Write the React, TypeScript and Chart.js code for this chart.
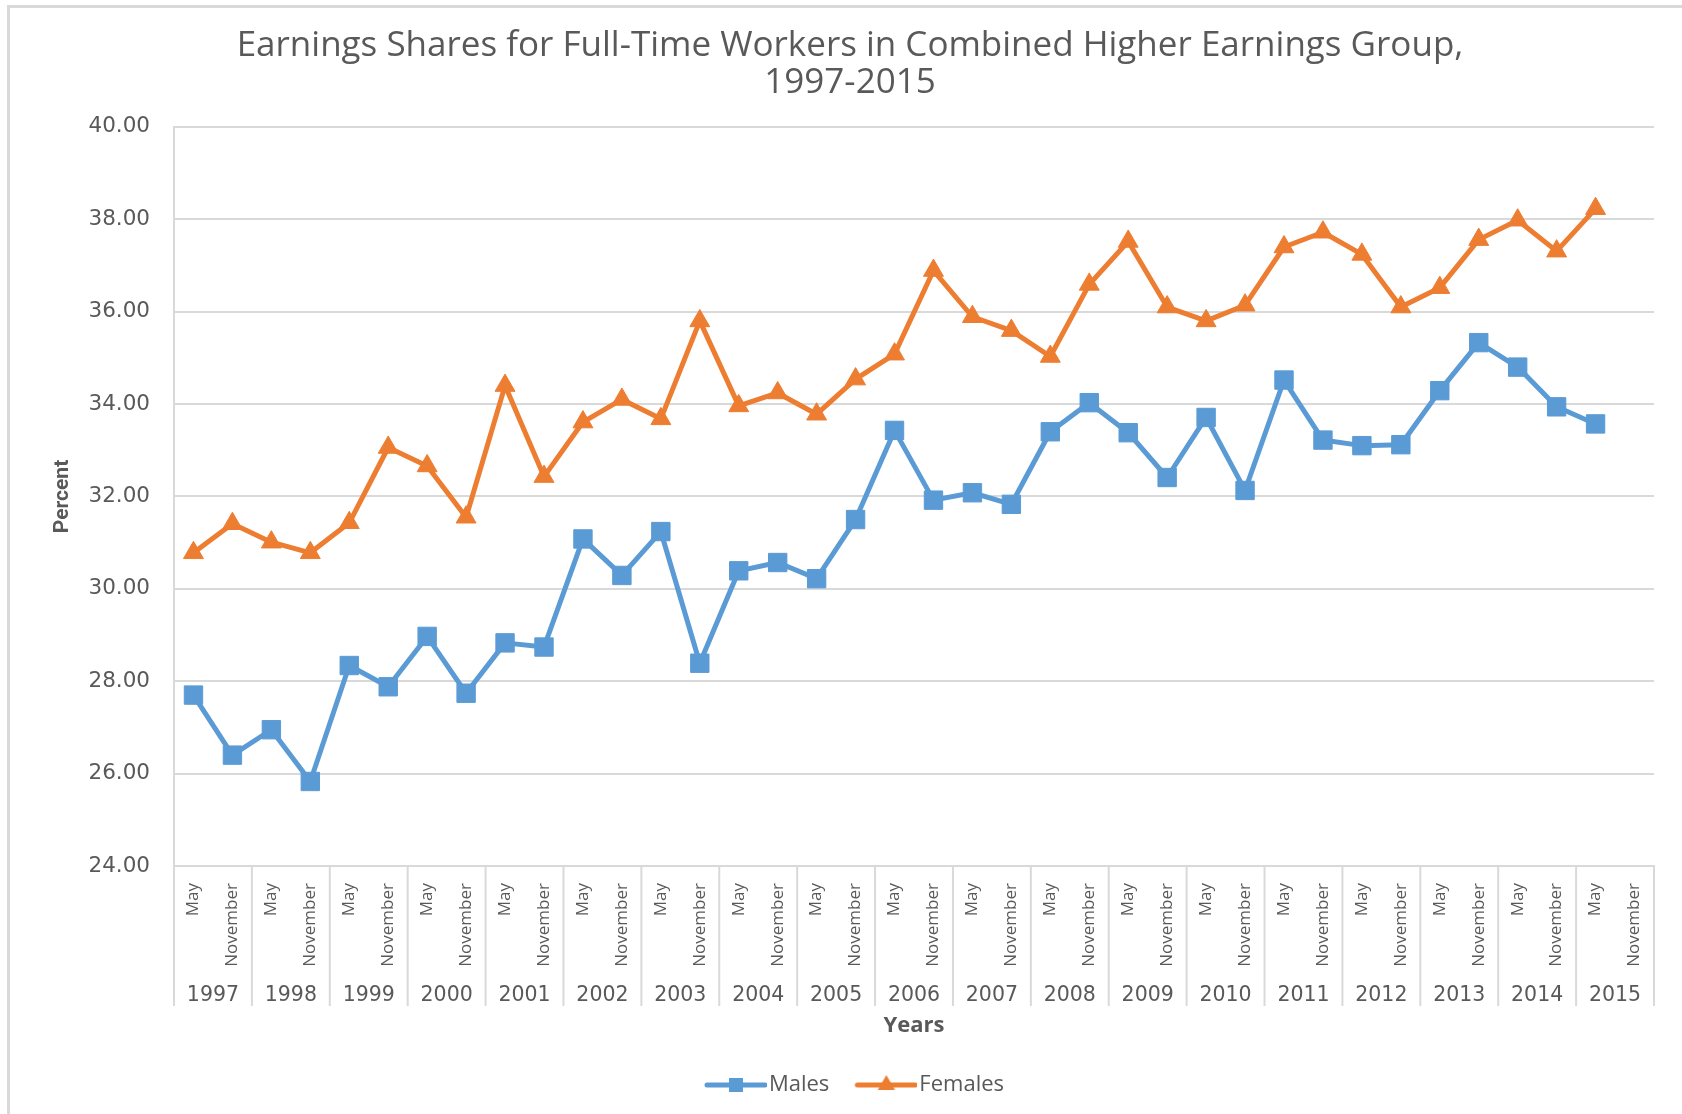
import React, { useEffect, useRef } from 'react';
import { Chart, registerables } from 'chart.js';

Chart.register(...registerables);

const titleLines = ['Earnings Shares for Full-Time Workers in Combined Higher Earnings Group,', '1997-2015'];
const years = ['1997', '1998', '1999', '2000', '2001', '2002', '2003', '2004', '2005', '2006', '2007', '2008', '2009', '2010', '2011', '2012', '2013', '2014', '2015'];
const halves = ['May', 'November'];
const categories = years.flatMap(() => halves);

const males = [
  27.70, 26.40, 26.95, 25.83, 28.34, 27.88, 28.97, 27.74, 28.83, 28.74,
  31.08, 30.29, 31.24, 28.39, 30.39, 30.57, 30.22, 31.50, 33.43, 31.92,
  32.08, 31.83, 33.40, 34.03, 33.38, 32.41, 33.71, 32.13, 34.52, 33.22,
  33.10, 33.12, 34.29, 35.33, 34.80, 33.94, 33.57, null,
];
const females = [
  30.78, 31.41, 31.01, 30.78, 31.43, 33.06, 32.66, 31.55, 34.40, 32.43,
  33.61, 34.10, 33.68, 35.80, 33.96, 34.24, 33.78, 34.54, 35.08, 36.89,
  35.89, 35.59, 35.03, 36.59, 37.52, 36.10, 35.80, 36.14, 37.40, 37.72,
  37.24, 36.10, 36.52, 37.56, 37.98, 37.31, 38.23, null,
];

const yMin = 24;
const yMax = 40;
const yStep = 2;

const BLUE = '#5B9BD5';
const ORANGE = '#ED7D31';
const TEXT = '#595959';
const GRID = '#d9d9d9';

const LEGEND_FONT = 22;
const LEGEND_LINE = 62;

function makeLegendIcon(color: string, style: 'rect' | 'triangle') {
  const g = LEGEND_FONT / 2 - 2;
  const c = document.createElement('canvas');
  c.width = Math.round(LEGEND_LINE + 2 * g);
  c.height = 24;
  const ctx = c.getContext('2d')!;
  const cy = 12;
  ctx.strokeStyle = color;
  ctx.lineWidth = 5;
  ctx.lineCap = 'round';
  ctx.beginPath();
  ctx.moveTo(2 * g + 2, cy);
  ctx.lineTo(2 * g + LEGEND_LINE - 2, cy);
  ctx.stroke();
  ctx.fillStyle = color;
  const cx = 2 * g + LEGEND_LINE / 2;
  if (style === 'rect') {
    ctx.fillRect(cx - 7, cy - 7, 14, 14);
  } else {
    const r = 10;
    ctx.beginPath();
    ctx.moveTo(cx, cy - r);
    ctx.lineTo(cx + r * 0.866, cy + r / 2);
    ctx.lineTo(cx - r * 0.866, cy + r / 2);
    ctx.closePath();
    ctx.fill();
  }
  return c;
}

const yearGroupPlugin = {
  id: 'yearGroups',
  afterDraw(chart: any) {
    const x = chart.scales.x;
    const ctx = chart.ctx;
    const half = (x.getPixelForValue(1) - x.getPixelForValue(0)) / 2;
    const top = chart.chartArea.bottom;
    ctx.save();
    ctx.strokeStyle = GRID;
    ctx.lineWidth = 2;
    for (let i = 0; i <= years.length; i++) {
      const px = i < years.length
        ? x.getPixelForValue(i * 2) - half
        : x.getPixelForValue(years.length * 2 - 1) + half;
      ctx.beginPath();
      ctx.moveTo(px, top);
      ctx.lineTo(px, top + 140);
      ctx.stroke();
    }
    ctx.fillStyle = TEXT;
    ctx.font = '20.5px "DejaVu Sans"';
    ctx.textAlign = 'center';
    ctx.textBaseline = 'middle';
    years.forEach((yr, i) => {
      const px = (x.getPixelForValue(i * 2) + x.getPixelForValue(i * 2 + 1)) / 2;
      ctx.fillText(yr, px, top + 130);
    });
    ctx.restore();
  },
};

export default function App() {
  const ref = useRef<HTMLCanvasElement | null>(null);

  useEffect(() => {
    if (!ref.current) return;
    const icons = [makeLegendIcon(BLUE, 'rect'), makeLegendIcon(ORANGE, 'triangle')];
    const chart = new Chart(ref.current, {
      type: 'line',
      data: {
        labels: categories,
        datasets: [
          {
            label: 'Males',
            data: males,
            borderColor: BLUE,
            backgroundColor: BLUE,
            borderWidth: 5,
            borderJoinStyle: 'round',
            pointStyle: 'rect',
            pointRadius: 13,
            pointBorderWidth: 1,
            pointBackgroundColor: BLUE,
            pointBorderColor: BLUE,
            tension: 0,
          },
          {
            label: 'Females',
            data: females,
            borderColor: ORANGE,
            backgroundColor: ORANGE,
            borderWidth: 5,
            borderJoinStyle: 'round',
            pointStyle: 'triangle',
            pointRadius: 11.5,
            pointBorderWidth: 1,
            pointBackgroundColor: ORANGE,
            pointBorderColor: ORANGE,
            tension: 0,
          },
        ],
      },
      options: {
        responsive: false,
        animation: false,
        layout: { padding: { left: 46, right: 28, top: 0, bottom: 8 } },
        plugins: {
          title: {
            display: true,
            text: titleLines,
            color: TEXT,
            font: { family: '"Open Sans"', size: 35, weight: 'normal', lineHeight: 1.07 },
            padding: { top: 27, bottom: 25 },
          },
          legend: {
            position: 'bottom',
            labels: {
              usePointStyle: true,
              pointStyleWidth: LEGEND_LINE,
              padding: 17,
              color: TEXT,
              font: { family: '"Open Sans"', size: LEGEND_FONT },
              generateLabels: (ch: any) =>
                ch.data.datasets.map((ds: any, i: number) => ({
                  text: ds.label,
                  fillStyle: ds.borderColor,
                  strokeStyle: ds.borderColor,
                  lineWidth: 0,
                  hidden: false,
                  datasetIndex: i,
                  pointStyle: icons[i],
                  fontColor: TEXT,
                })),
            },
          },
          tooltip: { enabled: false },
        },
        scales: {
          x: {
            type: 'category',
            offset: true,
            grid: { display: false },
            border: { display: true, color: GRID, width: 2 },
            ticks: {
              autoSkip: false,
              minRotation: 90,
              maxRotation: 90,
              padding: 9,
              color: TEXT,
              font: { family: '"Open Sans"', size: 17 },
            },
            title: {
              display: true,
              text: 'Years',
              color: TEXT,
              font: { family: '"Open Sans"', size: 22, weight: 'bold' },
              padding: { top: 0, bottom: 18 },
            },
            afterFit: (s: any) => {
              s.height = 191;
            },
          },
          y: {
            min: yMin,
            max: yMax,
            ticks: {
              stepSize: yStep,
              padding: 24,
              color: TEXT,
              font: { family: '"DejaVu Sans"', size: 21.5 },
              callback: (v: any) => Number(v).toFixed(2),
            },
            grid: { color: GRID, lineWidth: 2, drawTicks: false },
            border: { display: true, color: GRID, width: 2 },
            title: {
              display: true,
              text: 'Percent',
              color: TEXT,
              font: { family: 'Roboto', size: 21, weight: 'bold' },
              padding: { top: 4, bottom: 0 },
            },
            afterFit: (s: any) => {
              s.width = 128;
            },
          },
        },
      },
      plugins: [yearGroupPlugin],
    } as any);
    return () => chart.destroy();
  }, []);

  return (
    <div style={{ position: 'fixed', left: 0, top: 0, width: 1682, height: 1114, background: '#fff', overflow: 'hidden' }}>
      <canvas ref={ref} width={1682} height={1114} style={{ display: 'block', width: 1682, height: 1114 }} />
      <div
        style={{
          position: 'absolute',
          left: 7,
          top: 5,
          width: 1700,
          height: 1130,
          borderLeft: `3px solid ${GRID}`,
          borderTop: `3px solid ${GRID}`,
          boxSizing: 'border-box',
          pointerEvents: 'none',
        }}
      />
    </div>
  );
}
